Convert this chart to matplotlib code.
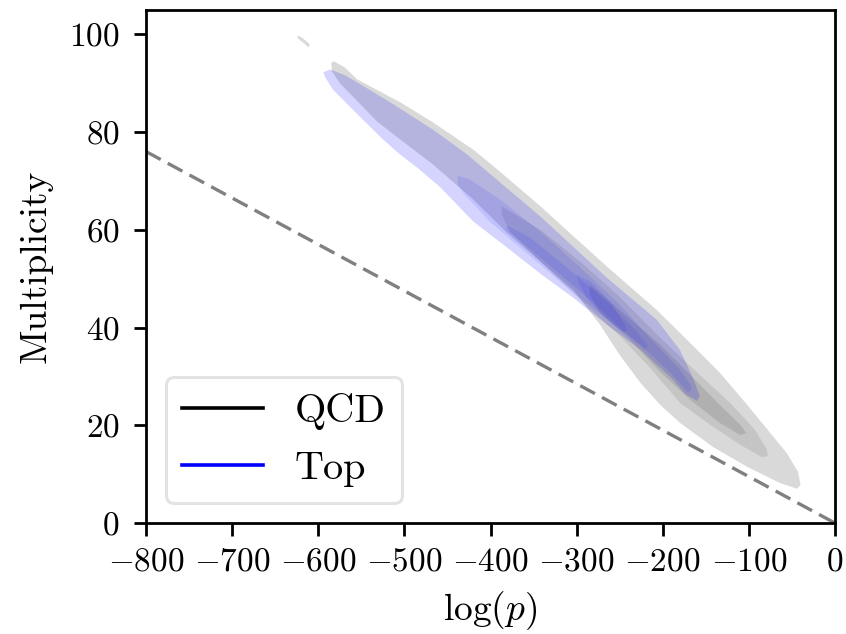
import numpy as np
import matplotlib
matplotlib.use("Agg")
import matplotlib.pyplot as plt

plt.rcParams['font.family'] = 'serif'
plt.rcParams['font.serif'] = ['cmr10']
plt.rcParams['mathtext.fontset'] = 'cm'
plt.rcParams['axes.formatter.use_mathtext'] = True

# contour outlines, (log p, multiplicity)
qcd_outer_x = [-585, -582, -569, -555, -505, -467, -420, -389, -342, -265, -207, -165, -134, -102,
               -56, -43, -40, -44, -64, -102, -142, -180, -203, -226, -250, -273, -304, -342,
               -381, -420, -467, -505, -532, -560, -575, -584]
qcd_outer_y = [94.1, 94.5, 93.2, 90.8, 86.1, 82.0, 76.4, 71.9, 64.8, 52.5, 43.6, 36.3, 30.8, 24.2,
               14.3, 10.5, 7.8, 7.0, 8.2, 11.5, 15.6, 20.5, 24.2, 28.7, 34.4, 40.6, 47.7, 53.5,
               59.4, 66.2, 73.4, 78.5, 82.2, 87.3, 90.0, 92.4]
qcd_blob_x = [-624, -618, -610, -611, -617, -624]
qcd_blob_y = [99.8, 99.2, 98.0, 97.3, 98.2, 99.2]
qcd_mid_x = [-387, -342, -296, -250, -203, -157, -122, -93, -79, -78,
             -85, -110, -145, -180, -215, -250, -296, -342, -377, -387]
qcd_mid_y = [64.8, 60.0, 53.5, 46.3, 37.9, 30.3, 24.6, 19.1, 15.0, 13.7,
             13.5, 16.0, 20.1, 24.6, 31.8, 38.3, 45.7, 53.5, 59.6, 63.1]
qcd_inner_x = [-285, -250, -203, -168, -134, -110, -103, -110, -134, -168, -203, -238, -273, -285]
qcd_inner_y = [48.8, 43.6, 36.5, 30.3, 24.2, 20.1, 18.4, 18.0, 20.5, 25.2, 30.9, 37.5, 43.2, 46.7]

top_outer_x = [-594, -586, -569, -557, -513, -467, -427, -389, -342, -265, -207, -180, -165, -157,
               -160, -174, -188, -226, -265, -304, -342, -381, -420, -459, -485, -505, -525, -560,
               -583, -592]
top_outer_y = [92.2, 92.8, 91.6, 90.4, 85.7, 80.5, 75.4, 69.7, 62.7, 50.2, 41.6, 35.4, 29.7, 26.0,
               25.0, 26.4, 29.3, 35.5, 40.6, 46.1, 51.0, 56.4, 61.7, 68.8, 72.7, 75.4, 78.5, 84.6,
               88.7, 91.2]
top_b2_x = [-438, -424, -389, -342, -296, -250, -215, -180, -168, -166,
            -171, -192, -226, -273, -319, -366, -401, -430, -438]
top_b2_y = [71.1, 70.3, 66.2, 59.6, 52.3, 44.7, 37.9, 31.4, 28.3, 27.3,
            26.8, 30.9, 36.5, 42.8, 49.4, 56.4, 61.7, 67.2, 69.1]
top_b3_x = [-381, -354, -308, -261, -232, -217, -221, -238, -273, -308, -342, -372, -381]
top_b3_y = [60.9, 58.4, 51.8, 44.7, 39.5, 36.3, 35.5, 38.1, 43.9, 49.2, 54.3, 58.6, 59.8]
top_b4_x = [-300, -284, -261, -244, -242, -247, -267, -287, -298]
top_b4_y = [50.8, 49.4, 45.3, 40.6, 39.3, 39.1, 42.0, 45.7, 49.2]

# dashed reference line
line_x = [-800, 0]
line_y = [76, 0]

fig = plt.figure(figsize=(8.46, 6.34), dpi=100)
ax = fig.add_axes([0.1726, 0.175, 0.8144, 0.8095])

ax.fill(qcd_outer_x, qcd_outer_y, color='k', alpha=0.15, lw=0)
ax.fill(qcd_blob_x, qcd_blob_y, color='k', alpha=0.15, lw=0)
ax.fill(qcd_mid_x, qcd_mid_y, color='k', alpha=0.09, lw=0)
ax.fill(qcd_inner_x, qcd_inner_y, color='k', alpha=0.10, lw=0)

ax.fill(top_outer_x, top_outer_y, color='b', alpha=0.17, lw=0)
ax.fill(top_b2_x, top_b2_y, color='b', alpha=0.09, lw=0)
ax.fill(top_b3_x, top_b3_y, color='b', alpha=0.09, lw=0)
ax.fill(top_b4_x, top_b4_y, color='b', alpha=0.09, lw=0)

ax.plot(line_x, line_y, color='gray', lw=2.4, dashes=(5, 2.4))

ax.plot([], [], color='k', lw=2.6, label='QCD')
ax.plot([], [], color='b', lw=2.6, label='Top')
leg = ax.legend(loc='lower left', fontsize=29, handlelength=2.0, fancybox=True)
leg.get_frame().set_edgecolor('#dcdcdc')
leg.get_frame().set_linewidth(2.2)

ax.set_xlim(-800, 0)
ax.set_ylim(0, 105)
ax.set_xticks(np.arange(-800, 1, 100))
ax.set_yticks(np.arange(0, 101, 20))
ax.set_xlabel(r'$\log(p)$', fontsize=27, labelpad=9)
ax.set_ylabel('Multiplicity', fontsize=27, labelpad=12)
ax.tick_params(labelsize=24, width=2, length=9)
ax.tick_params(axis='x', pad=8.5)
ax.tick_params(axis='y', pad=10)
for s in ax.spines.values():
    s.set_linewidth(2)

plt.savefig('out.png')
